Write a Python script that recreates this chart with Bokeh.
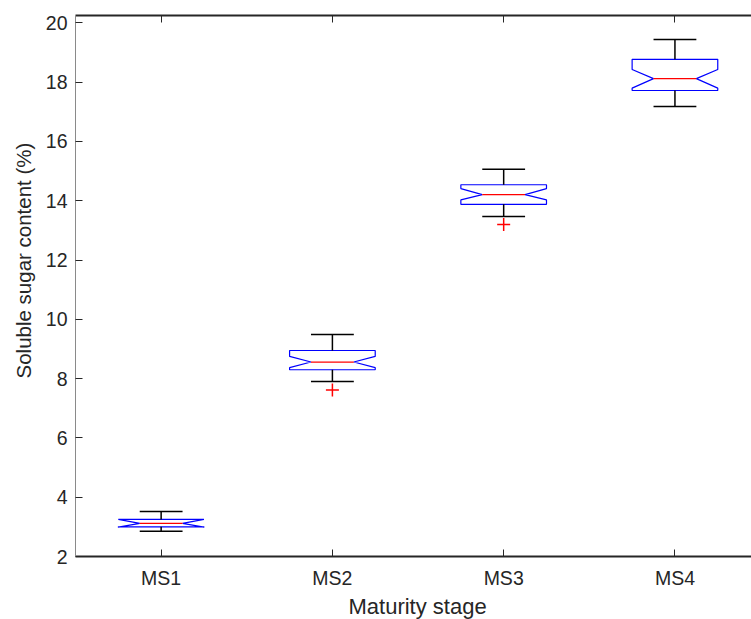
from bokeh.embed import file_html
from bokeh.models import FixedTicker, LinearAxis, Range1d, Title
from bokeh.plotting import figure
from bokeh.resources import INLINE

# Soluble sugar content (%) per maturity stage: box-plot statistics
stages = ["MS1", "MS2", "MS3", "MS4"]
upper_whisker = [3.52, 9.49, 15.06, 19.44]
q3 = [3.25, 8.95, 14.54, 18.77]
notch_hi = [3.25, 8.75, 14.41, 18.43]
median = [3.12, 8.56, 14.21, 18.12]
notch_lo = [2.99, 8.37, 14.03, 17.80]
q1 = [3.00, 8.30, 13.88, 17.72]
lower_whisker = [2.85, 7.90, 13.47, 17.18]
outlier_stage = [2, 3]
outlier_value = [7.62, 13.20]

y_ticks = [2, 4, 6, 8, 10, 12, 14, 16, 18, 20]

FONT = "Liberation Sans"
AXIS = "#262626"
HALF_BOX = 0.25
HALF_NOTCH = 0.125

pos = list(range(1, len(stages) + 1))

p = figure(
    width=751, height=619,
    x_range=Range1d(0.5, 4.447), y_range=Range1d(2, 20.25),
    output_backend="svg", toolbar_location=None,
    x_axis_location=None, y_axis_location=None,
    min_border_left=75, min_border_right=0,
    min_border_top=15, min_border_bottom=63,
)
p.outline_line_color = None
p.grid.visible = False
p.background_fill_color = "white"
p.border_fill_color = "white"

# axes (ticks drawn inward)
left = LinearAxis(ticker=FixedTicker(ticks=y_ticks))
bottom = LinearAxis(ticker=FixedTicker(ticks=pos),
                    major_label_overrides={i: s for i, s in zip(pos, stages)})
top = LinearAxis(ticker=FixedTicker(ticks=pos))
for ax in (left, bottom, top):
    ax.axis_line_color = AXIS
    ax.major_tick_line_color = AXIS
    ax.major_tick_in = 7
    ax.major_tick_out = 0
    ax.minor_tick_line_color = None
    ax.major_label_text_font = FONT
    ax.major_label_text_font_size = "19.5px"
    ax.major_label_text_color = AXIS
left.axis_line_color = "#8a8a8a"
left.axis_line_width = 1
bottom.axis_line_width = 2
top.axis_line_width = 2
top.major_label_text_font_size = "0px"
top.major_label_text_color = None
top.major_label_standoff = 0
left.major_label_standoff = 8
bottom.major_label_standoff = 10
p.add_layout(left, "left")
p.add_layout(bottom, "below")
p.add_layout(top, "above")

# axis titles
p.add_layout(Title(text="Soluble sugar content (%)", text_font=FONT,
                   text_font_size="20.5px", text_color=AXIS, text_font_style="normal",
                   align="left", offset=178, standoff=15), "left")
p.add_layout(Title(text="Maturity stage", text_font=FONT,
                   text_font_size="22px", text_color=AXIS, text_font_style="normal",
                   align="left", offset=273, standoff=0), "below")

# notched boxes
xs, ys = [], []
for c, a, nl, m, nh, b in zip(pos, q1, notch_lo, median, notch_hi, q3):
    xs.append([c - HALF_BOX, c - HALF_BOX, c - HALF_NOTCH, c - HALF_BOX, c - HALF_BOX,
               c + HALF_BOX, c + HALF_BOX, c + HALF_NOTCH, c + HALF_BOX, c + HALF_BOX])
    ys.append([a, nl, m, nh, b, b, nh, m, nl, a])
p.patches(xs, ys, fill_color=None, line_color="#0000ff", line_width=1.2)

# whiskers and caps
x0 = list(pos) * 2
p.segment(x0=x0, y0=q3 + q1, x1=x0, y1=upper_whisker + lower_whisker,
          line_color="black", line_width=1.5)
cap_l = [c - HALF_NOTCH for c in pos] * 2
cap_r = [c + HALF_NOTCH for c in pos] * 2
p.segment(x0=cap_l, y0=upper_whisker + lower_whisker, x1=cap_r,
          y1=upper_whisker + lower_whisker, line_color="black", line_width=1.5)

# medians
p.segment(x0=[c - HALF_NOTCH for c in pos], y0=median,
          x1=[c + HALF_NOTCH for c in pos], y1=median,
          line_color="#ff0000", line_width=1.2)

# outliers
p.scatter(x=outlier_stage, y=outlier_value, marker="cross", size=13,
          line_color="#ff0000", line_width=1.5)

open("out.html", "w").write(file_html(p, INLINE))
